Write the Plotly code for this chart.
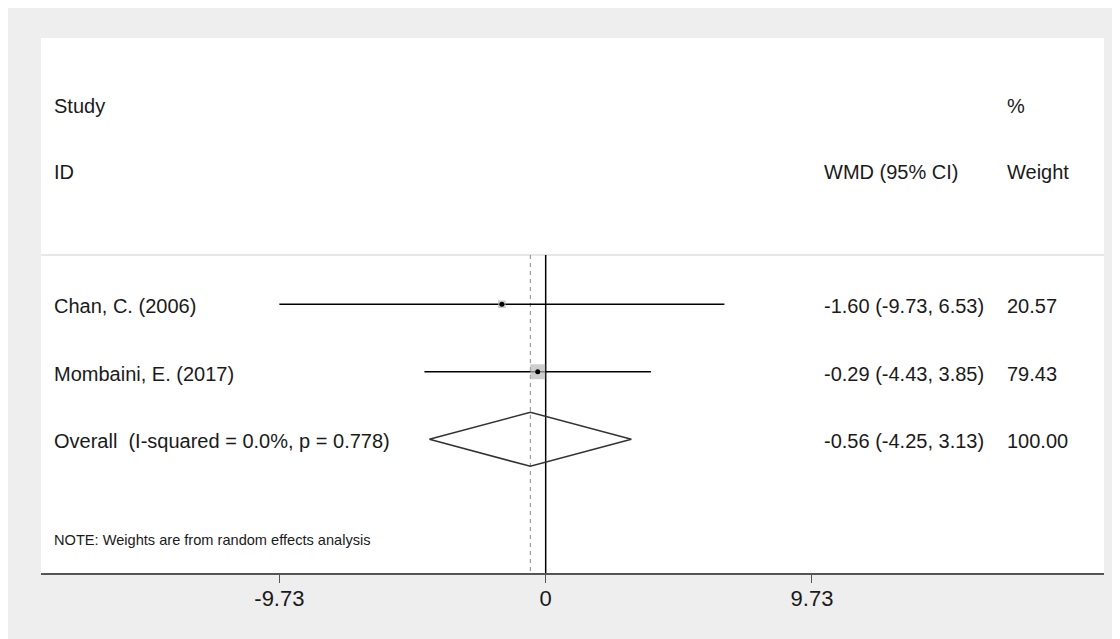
import plotly.graph_objects as go

# ---- data ----
studies = ["Chan, C. (2006)", "Mombaini, E. (2017)"]
est = [-1.60, -0.29]
lower = [-9.73, -4.43]
upper = [6.53, 3.85]
weights = [20.57, 79.43]
ci_labels = ["-1.60 (-9.73, 6.53)", "-0.29 (-4.43, 3.85)"]
weight_labels = ["20.57", "79.43"]

overall_label = "Overall  (I-squared = 0.0%, p = 0.778)"
overall_est = -0.56
overall_lower = -4.25
overall_upper = 3.13
overall_ci_label = "-0.56 (-4.25, 3.13)"
overall_weight_label = "100.00"

tick_vals = [-9.73, 0, 9.73]
tick_text = ["-9.73", "0", "9.73"]

note = "NOTE: Weights are from random effects analysis"

# ---- layout geometry (page has an 8px body margin) ----
OFF = 8
W, H = 1120, 639
ML, MT = 41 - OFF, 38 - OFF
MR = W - (1104 - OFF)
MB = H - (573 - OFF)
XR = [-18.44, 20.40]
YR = [3.981, -3.945]   # reversed: row 0 at top
sep_y = -0.73
overall_row = len(studies)
diamond_h = 0.40

FONT = "Arial, Liberation Sans, sans-serif"
TXT = "#1a1a1a"

fig = go.Figure()

# separator, null line and overall dashed line
fig.add_trace(go.Scatter(x=[XR[0], XR[1]], y=[sep_y, sep_y], mode="lines",
                         line=dict(color="#cfcfcf", width=1.2), hoverinfo="skip", showlegend=False))
fig.add_trace(go.Scatter(x=[overall_est, overall_est], y=[sep_y, YR[0]], mode="lines",
                         line=dict(color="#8a8a8a", width=1, dash="4px,4px"), hoverinfo="skip", showlegend=False))
fig.add_trace(go.Scatter(x=[0, 0], y=[sep_y, YR[0]], mode="lines",
                         line=dict(color="#000000", width=1.5), hoverinfo="skip", showlegend=False))

# CI lines
for i in range(len(studies)):
    fig.add_trace(go.Scatter(x=[lower[i], upper[i]], y=[i, i], mode="lines",
                             line=dict(color="#000000", width=1.6), hoverinfo="skip", showlegend=False))

# weight squares
max_w = max(weights)
sizes = [15 * (w / max_w) ** 0.5 for w in weights]
fig.add_trace(go.Scatter(x=est, y=list(range(len(studies))), mode="markers",
                         marker=dict(symbol="square", size=sizes, color="#b8b8b8", line=dict(width=0)),
                         hoverinfo="skip", showlegend=False))
fig.add_trace(go.Scatter(x=est, y=list(range(len(studies))), mode="markers",
                         marker=dict(symbol="circle", size=5, color="#000000"),
                         hoverinfo="skip", showlegend=False))

# overall diamond
fig.add_trace(go.Scatter(
    x=[overall_lower, overall_est, overall_upper, overall_est, overall_lower],
    y=[overall_row, overall_row - diamond_h, overall_row, overall_row + diamond_h, overall_row],
    mode="lines", line=dict(color="#333333", width=1.6), hoverinfo="skip", showlegend=False))

# ---- text ----
def px2paper_x(px):
    return (px - OFF - ML) / (W - ML - MR)

col_study = px2paper_x(52)
col_ci = px2paper_x(822)
col_w = px2paper_x(1005)

ann = []
def add_text(x, y, text, size=20):
    ann.append(dict(x=x, y=y, xref="paper", yref="y", text=text, showarrow=False,
                    xanchor="left", yanchor="middle", font=dict(family=FONT, size=size, color=TXT)))

add_text(col_study, -2.94, "Study")
add_text(col_study, -1.96, "ID")
add_text(col_ci, -1.96, "WMD (95% CI)")
add_text(col_w, -2.94, "%")
add_text(col_w, -1.96, "Weight")
for i, s in enumerate(studies):
    add_text(col_study, i + 0.03, s)
    add_text(col_ci, i + 0.03, ci_labels[i])
    add_text(col_w, i + 0.03, weight_labels[i])
add_text(col_study, overall_row + 0.03, overall_label)
add_text(col_ci, overall_row + 0.03, overall_ci_label)
add_text(col_w, overall_row + 0.03, overall_weight_label)
add_text(col_study, 3.49, note, size=14.6)

fig.update_layout(
    width=W, height=H,
    margin=dict(l=ML, r=MR, t=MT, b=MB, pad=0),
    paper_bgcolor="#eeeeee",
    plot_bgcolor="#ffffff",
    annotations=ann,
    showlegend=False,
    xaxis=dict(range=XR, showgrid=False, zeroline=False, showline=True, linecolor="#555555",
               linewidth=2, ticks="outside", ticklen=8, tickwidth=1, tickcolor="#555555",
               tickvals=tick_vals, ticktext=tick_text, tickfont=dict(family=FONT, size=22, color=TXT),
               ticklabelstandoff=-3, fixedrange=True),
    yaxis=dict(range=YR, visible=False, showgrid=False, zeroline=False, fixedrange=True),
)

fig.write_html("out.html")
